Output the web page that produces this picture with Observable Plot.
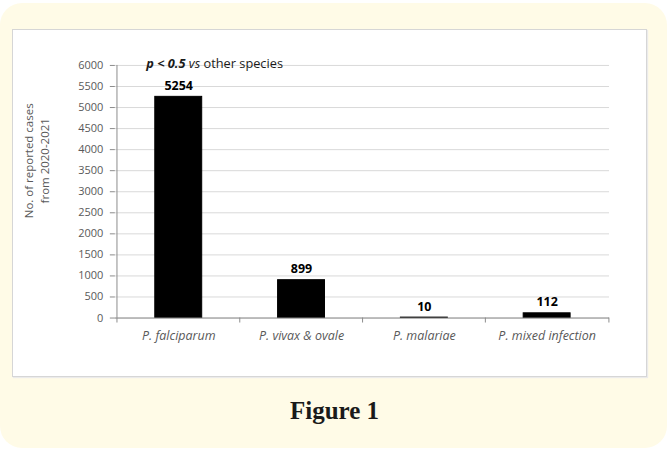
<!DOCTYPE html>
<html>
<head>
<meta charset="utf-8">
<script src="https://cdn.jsdelivr.net/npm/d3@7"></script>
<script src="https://cdn.jsdelivr.net/npm/@observablehq/plot@0.6"></script>
<style>
  html, body { margin: 0; padding: 0; background: #ffffff; width: 669px; height: 450px; overflow: hidden; }
  #panel { position: absolute; left: 0; top: 3px; width: 667px; height: 445px; background: #fffbe7; border-radius: 22px; }
  #box { position: absolute; left: 12px; top: 29px; width: 635px; height: 348px; background: #ffffff; border: 1px solid #d6d6d6; box-sizing: border-box; box-shadow: 1px 1px 1px #ebebeb; }
  #chart { position: absolute; left: -1px; top: -1px; }
  #caption { position: absolute; left: 0; top: 397px; width: 669px; text-align: center; font-family: "Liberation Serif", serif; font-weight: bold; font-size: 25px; color: #1a1a1a; }
</style>
</head>
<body>
<div id="panel"></div>
<div id="box"><div id="chart"></div></div>
<div id="caption">Figure 1</div>
<script>
const species = ["P. falciparum", "P. vivax & ovale", "P. malariae", "P. mixed infection"];
const cases = [5254, 899, 10, 112];
const yTicks = [0, 500, 1000, 1500, 2000, 2500, 3000, 3500, 4000, 4500, 5000, 5500, 6000];
const yTitle = "No. of reported cases\nfrom 2020-2021";
const note = "p < 0.5 vs other species";

const data = species.map((s, i) => ({species: s, cases: cases[i]}));

const W = 635, H = 348, ML = 103, MR = 37, MT = 36, MB = 59;
const PI = 0.62, PO = PI / 2;
const step = (W - ML - MR) / (species.length - PI + 2 * PO);

const axisColor = "#8c8c8c";
const textColor = "#595959";

const plot = Plot.plot({
  width: W, height: H,
  marginLeft: ML, marginRight: MR, marginTop: MT, marginBottom: MB,
  style: {fontFamily: "'Open Sans', sans-serif", background: "transparent", overflow: "visible"},
  x: {domain: species, paddingInner: PI, paddingOuter: PO, label: null},
  y: {domain: [0, 6000], label: null},
  marks: [
    Plot.gridY(yTicks, {stroke: "#d9d9d9", strokeOpacity: 1}),
    Plot.barY(data, {x: "species", y: "cases", fill: "black", stroke: "black", strokeWidth: 1}),
    // left axis line
    Plot.ruleX([species[0]], {y1: 0, y2: 6000, dx: -step / 2, stroke: axisColor}),
    // bottom axis line
    Plot.ruleY([0], {stroke: axisColor}),
    // category boundary ticks
    Plot.ruleX(species, {y1: 0, y2: 0, dx: -step / 2, insetTop: 5, stroke: axisColor}),
    Plot.ruleX([species[species.length - 1]], {y1: 0, y2: 0, dx: step / 2, insetTop: 5, stroke: axisColor}),
    Plot.axisY(yTicks, {tickSize: 5, tickPadding: 7, tickFormat: d => String(d), fontSize: 11, color: textColor, stroke: axisColor, label: null}),
    Plot.axisX({tickSize: 0, tickPadding: 13, fontSize: 12.5, fontStyle: "italic", color: textColor, label: null}),
    Plot.text(data, {x: "species", y: "cases", text: d => String(d.cases), lineAnchor: "bottom", dy: -7, fontWeight: "bold", fontSize: 12.5, fill: "black"}),
    Plot.text([yTitle], {frameAnchor: "left", rotate: -90, dx: -80, dy: -31, lineHeight: 1.4, fontSize: 11.5, fill: textColor, textAnchor: "middle", lineAnchor: "middle"}),
    Plot.text([note], {frameAnchor: "top-left", dx: 31, dy: -2, textAnchor: "start", lineAnchor: "middle", fontSize: 12.8, fill: "#1a1a1a"})
  ]
});

document.getElementById("chart").append(plot);

// style the annotation with mixed font styles
d3.select(plot).selectAll("text").each(function() {
  if (this.textContent === note) {
    const t = d3.select(this);
    t.text(null);
    t.append("tspan").attr("font-weight", "bold").attr("font-style", "italic").text("p < 0.5");
    t.append("tspan").attr("font-style", "italic").text(" vs");
    t.append("tspan").text(" other species");
  }
});
</script>
</body>
</html>
